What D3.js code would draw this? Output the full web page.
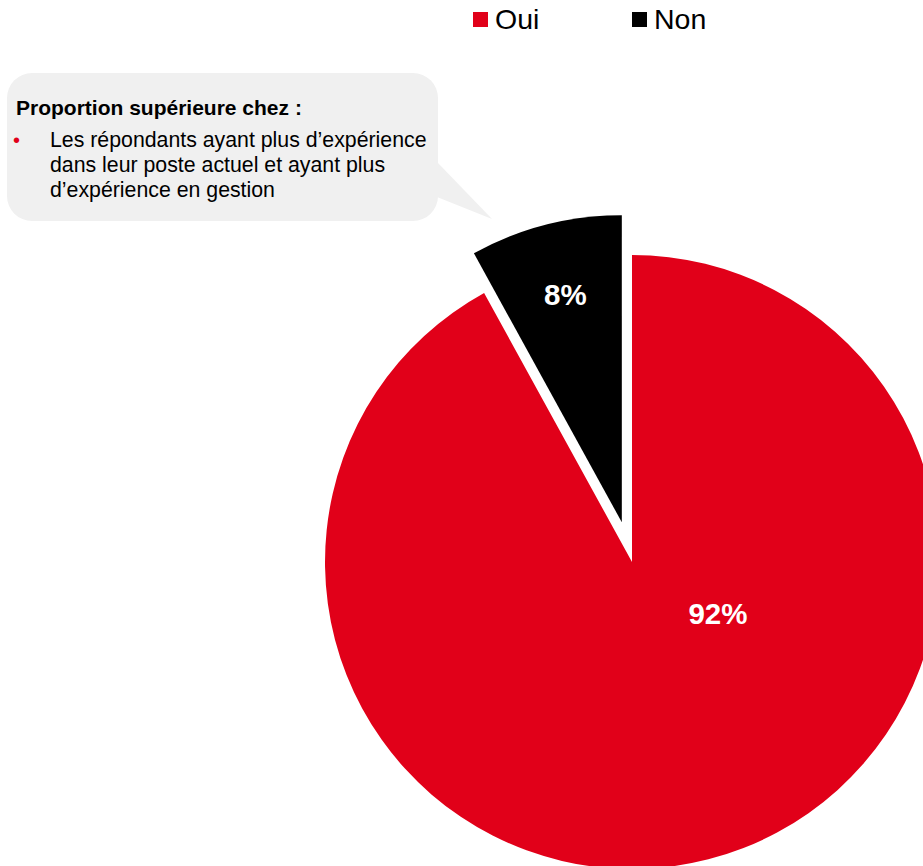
<!DOCTYPE html>
<html>
<head>
<meta charset="utf-8">
<script src="https://cdn.jsdelivr.net/npm/d3@7/dist/d3.min.js"></script>
<style>
  html, body { margin: 0; padding: 0; background: #fff; }
  svg { display: block; font-family: "Liberation Sans", Arial, sans-serif; }
</style>
</head>
<body>
<svg id="chart" width="923" height="866"></svg>
<script>
// Answer categories and their shares (%)
const categories = ["Oui", "Non"];
const values = [92, 8];
const colors = ["#e10019", "#000000"];
const valueLabels = ["92%", "8%"];

// Callout text
const calloutTitle = "Proportion supérieure chez :";
const calloutLines = [
  "Les répondants ayant plus d\u2019expérience",
  "dans leur poste actuel et ayant plus",
  "d\u2019expérience en gestion"
];

const svg = d3.select("#chart");

// Pie geometry
const cx = 632, cy = 562, radius = 307;
const explodeOffset = 41;     // "Non" slice pulled out from the center

const pie = d3.pie().sort(null).startAngle(0).endAngle(2 * Math.PI);
const arcs = pie(values);
const arc = d3.arc().innerRadius(0).outerRadius(radius);

const g = svg.append("g").attr("transform", `translate(${cx},${cy})`);

arcs.forEach((d, i) => {
  const mid = (d.startAngle + d.endAngle) / 2;
  const off = i === 1 ? explodeOffset : 0;
  const dx = off * Math.sin(mid), dy = -off * Math.cos(mid);
  const sg = g.append("g").attr("transform", `translate(${dx},${dy})`);
  sg.append("path").attr("d", arc(d)).attr("fill", colors[i]);

  // Value labels
  let lx, ly;
  if (i === 1) {
    const lr = radius * 0.765;
    lx = lr * Math.sin(mid) + 2; ly = -lr * Math.cos(mid);
  } else {
    const la = 120.7 * Math.PI / 180, lr = 100;
    lx = lr * Math.sin(la); ly = -lr * Math.cos(la);
  }
  sg.append("text")
    .attr("x", lx).attr("y", ly)
    .attr("dy", "0.36em")
    .attr("text-anchor", "middle")
    .attr("fill", "#fff")
    .attr("font-weight", "bold")
    .attr("font-size", 29.5)
    .text(valueLabels[i]);
});

// Legend
const legendX = [473, 632];
categories.forEach((c, i) => {
  const lg = svg.append("g").attr("transform", `translate(${legendX[i]},12)`);
  lg.append("rect").attr("width", 15).attr("height", 15).attr("fill", colors[i]);
  lg.append("text")
    .attr("x", 22).attr("y", 16.5)
    .attr("font-size", 28.5)
    .attr("fill", "#000")
    .text(c);
});

// Callout bubble
const bx = 7, by = 73, bw = 431, bh = 148, br = 25;
const bubble = svg.append("g");
bubble.append("rect")
  .attr("x", bx).attr("y", by).attr("width", bw).attr("height", bh)
  .attr("rx", br).attr("ry", br)
  .attr("fill", "#f0f0f0");
bubble.append("path")
  .attr("d", d3.line()([[bx + bw - 1, 162], [492, 219], [bx + bw - 1, 197]]))
  .attr("fill", "#f0f0f0");

bubble.append("text")
  .attr("x", 16).attr("y", 115)
  .attr("font-size", 21)
  .attr("font-weight", "bold")
  .attr("fill", "#000")
  .text(calloutTitle);

bubble.append("text")
  .attr("x", 13).attr("y", 147)
  .attr("font-size", 20)
  .attr("fill", "#e10019")
  .text("\u2022");

calloutLines.forEach((t, i) => {
  bubble.append("text")
    .attr("x", 50).attr("y", 147 + i * 25)
    .attr("font-size", 21.3)
    .attr("fill", "#000")
    .text(t);
});
</script>
</body>
</html>
